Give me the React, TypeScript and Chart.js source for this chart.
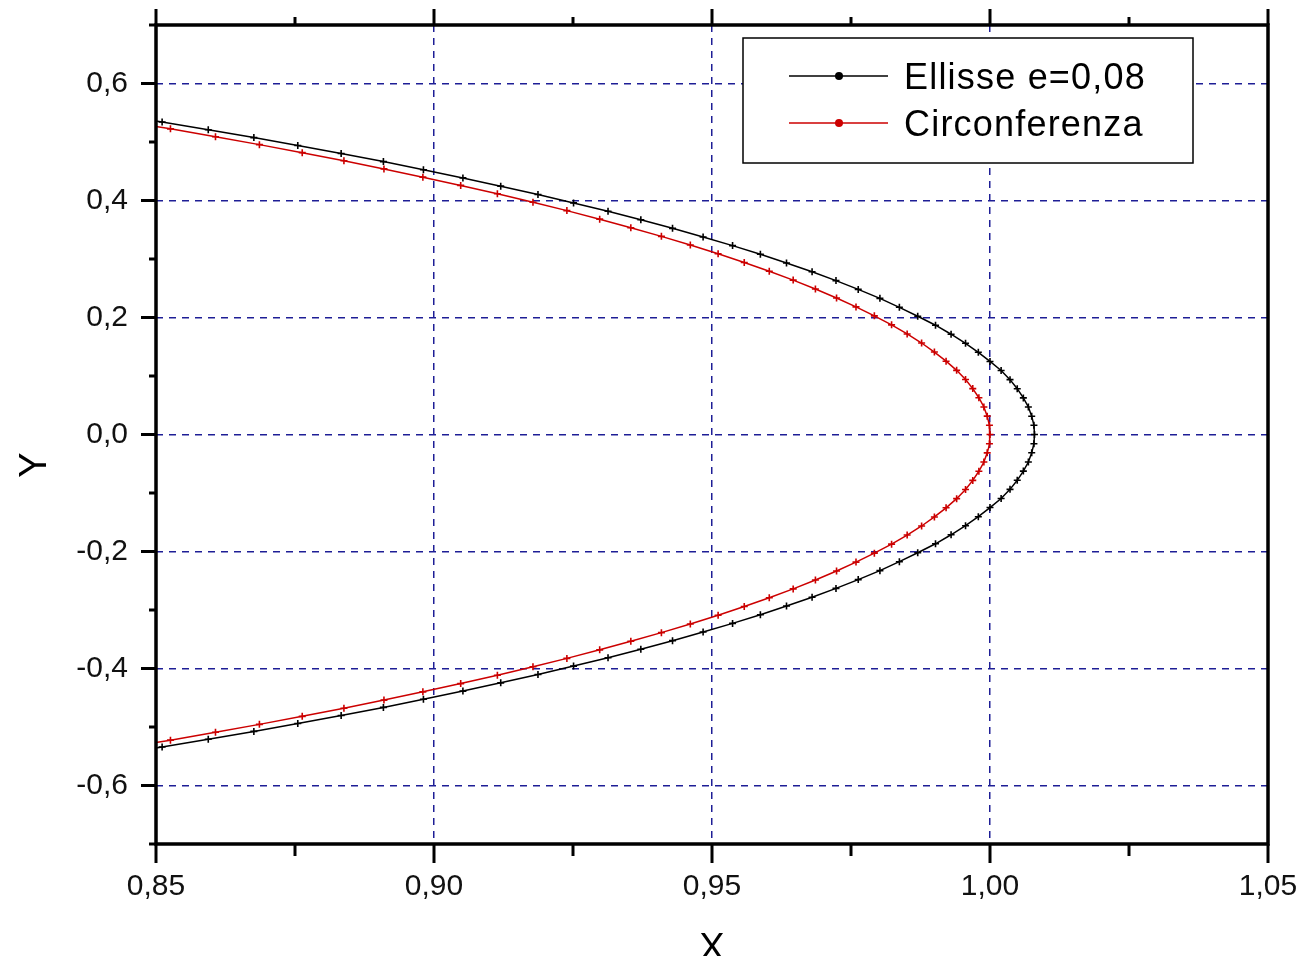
import React, { useEffect, useRef } from "react";
import { Chart, registerables } from "chart.js";

Chart.register(...registerables);

// ---- axis ticks ----
const xTicks = [0.85, 0.9, 0.95, 1.0, 1.05];
const xMinorTicks = [0.875, 0.925, 0.975, 1.025];
const yTicks = [-0.6, -0.4, -0.2, 0, 0.2, 0.4, 0.6];
const yMinorTicks = [-0.7, -0.5, -0.3, -0.1, 0.1, 0.3, 0.5, 0.7];

// ---- series labels ----
const seriesLabels = ["Ellisse e=0,08", "Circonferenza"];
const axisTitles = ["X", "Y"];

// ---- Ellisse e=0,08 (black) ----
const ellipseX = [
  0.8425, 0.8511, 0.8594, 0.8676, 0.8755, 0.8833, 0.8909, 0.8981, 0.9052, 0.912,
  0.9187, 0.9251, 0.9313, 0.9372, 0.9429, 0.9484, 0.9537, 0.9587, 0.9634, 0.968,
  0.9723, 0.9763, 0.9802, 0.9837, 0.987, 0.9902, 0.993, 0.9956, 0.9979, 1.0,
  1.002, 1.0036, 1.0049, 1.006, 1.0069, 1.0075, 1.0079, 1.008,
  1.0079, 1.0075, 1.0069, 1.006, 1.0049, 1.0036, 1.002,
  1.0, 0.9979, 0.9956, 0.993, 0.9902, 0.987, 0.9837, 0.9802, 0.9763, 0.9723,
  0.968, 0.9634, 0.9587, 0.9537, 0.9484, 0.9429, 0.9372, 0.9313, 0.9251, 0.9187,
  0.912, 0.9052, 0.8981, 0.8909, 0.8833, 0.8755, 0.8676, 0.8594, 0.8511, 0.8425,
];
const ellipseY = [
  0.5474, 0.5342, 0.5209, 0.5075, 0.494, 0.4804, 0.4665, 0.4526, 0.4386, 0.4245,
  0.4103, 0.3959, 0.3816, 0.367, 0.3524, 0.3377, 0.3229, 0.3081, 0.2931, 0.2782,
  0.2631, 0.248, 0.2327, 0.2174, 0.2022, 0.1868, 0.1714, 0.1559, 0.1405, 0.1249,
  0.1094, 0.0938, 0.0783, 0.0626, 0.047, 0.0313, 0.0157, 0,
  -0.0157, -0.0313, -0.047, -0.0626, -0.0783, -0.0938, -0.1094,
  -0.1249, -0.1405, -0.1559, -0.1714, -0.1868, -0.2022, -0.2174, -0.2327, -0.248, -0.2631,
  -0.2782, -0.2931, -0.3081, -0.3229, -0.3377, -0.3524, -0.367, -0.3816, -0.3959, -0.4103,
  -0.4245, -0.4386, -0.4526, -0.4665, -0.4804, -0.494, -0.5075, -0.5209, -0.5342, -0.5474,
];

// ---- Circonferenza (red) ----
const circleX = [
  0.8443, 0.8526, 0.8607, 0.8686, 0.8763, 0.8838, 0.891, 0.898, 0.9048, 0.9114,
  0.9178, 0.9239, 0.9298, 0.9354, 0.9409, 0.9461, 0.9511, 0.9558, 0.9603, 0.9646,
  0.9686, 0.9724, 0.9759, 0.9792, 0.9823, 0.9851, 0.9877, 0.99, 0.9921, 0.994,
  0.9956, 0.9969, 0.998, 0.9989, 0.9995, 0.9999, 1.0,
  0.9999, 0.9995, 0.9989, 0.998, 0.9969, 0.9956,
  0.994, 0.9921, 0.99, 0.9877, 0.9851, 0.9823, 0.9792, 0.9759, 0.9724, 0.9686,
  0.9646, 0.9603, 0.9558, 0.9511, 0.9461, 0.9409, 0.9354, 0.9298, 0.9239, 0.9178,
  0.9114, 0.9048, 0.898, 0.891, 0.8838, 0.8763, 0.8686, 0.8607, 0.8526, 0.8443,
];
const circleY = [
  0.5358, 0.5225, 0.509, 0.4955, 0.4818, 0.4679, 0.454, 0.4399, 0.4258, 0.4115,
  0.3971, 0.3827, 0.3681, 0.3535, 0.3387, 0.3239, 0.309, 0.294, 0.279, 0.2639,
  0.2487, 0.2334, 0.2181, 0.2028, 0.1874, 0.1719, 0.1564, 0.1409, 0.1253, 0.1097,
  0.0941, 0.0785, 0.0628, 0.0471, 0.0314, 0.0157, 0,
  -0.0157, -0.0314, -0.0471, -0.0628, -0.0785, -0.0941,
  -0.1097, -0.1253, -0.1409, -0.1564, -0.1719, -0.1874, -0.2028, -0.2181, -0.2334, -0.2487,
  -0.2639, -0.279, -0.294, -0.309, -0.3239, -0.3387, -0.3535, -0.3681, -0.3827, -0.3971,
  -0.4115, -0.4258, -0.4399, -0.454, -0.4679, -0.4818, -0.4955, -0.509, -0.5225, -0.5358,
];

const FONT = '"Liberation Sans", Arial, Helvetica, sans-serif';
const GRID = "#1e1e96";
const BLACK = "#000000";
const RED = "#cc0000";

const zeroPad = (s: any) => {
  s.paddingTop = 0;
  s.paddingBottom = 0;
  s.paddingLeft = 0;
  s.paddingRight = 0;
};

const framePlugin = {
  id: "originFrame",
  afterDraw(chart: any) {
    const { ctx, chartArea: a, scales } = chart;
    const xs = scales.x;
    const ys = scales.y;
    ctx.save();
    ctx.strokeStyle = "#000";
    ctx.lineCap = "butt";
    // frame
    ctx.lineWidth = 3.5;
    ctx.strokeRect(a.left, a.top, a.right - a.left, a.bottom - a.top);
    const line = (x1: number, y1: number, x2: number, y2: number) => {
      ctx.beginPath();
      ctx.moveTo(x1, y1);
      ctx.lineTo(x2, y2);
      ctx.stroke();
    };
    ctx.lineWidth = 3;
    xTicks.forEach((v) => {
      const p = xs.getPixelForValue(v);
      line(p, a.bottom, p, a.bottom + 19);
      line(p, a.top, p, a.top - 16);
    });
    xMinorTicks.forEach((v) => {
      const p = xs.getPixelForValue(v);
      line(p, a.bottom, p, a.bottom + 12);
      line(p, a.top, p, a.top - 8);
    });
    yTicks.forEach((v) => {
      const p = ys.getPixelForValue(v);
      line(a.left, p, a.left - 15, p);
    });
    yMinorTicks.forEach((v) => {
      const p = ys.getPixelForValue(v);
      line(a.left, p, a.left - 7, p);
    });

    // legend
    const lx = 743, ly = 38, lw = 450, lh = 125;
    ctx.fillStyle = "#fff";
    ctx.fillRect(lx, ly, lw, lh);
    ctx.lineWidth = 1.5;
    ctx.strokeStyle = "#000";
    ctx.strokeRect(lx, ly, lw, lh);
    const entries = [
      { y: 76, base: 89, color: BLACK, label: chart.data.datasets[0].label },
      { y: 123, base: 136, color: RED, label: chart.data.datasets[1].label },
    ];
    entries.forEach((e) => {
      ctx.strokeStyle = e.color;
      ctx.lineWidth = 1.5;
      line(789, e.y, 888, e.y);
      ctx.fillStyle = e.color;
      ctx.beginPath();
      ctx.arc(839, e.y, 4, 0, Math.PI * 2);
      ctx.fill();
      ctx.fillStyle = "#000";
      ctx.font = `36px ${FONT}`;
      (ctx as any).letterSpacing = "1.2px";
      ctx.textAlign = "left";
      ctx.textBaseline = "alphabetic";
      ctx.fillText(e.label, 904, e.base);
      (ctx as any).letterSpacing = "0px";
    });

    // axis titles
    ctx.fillStyle = "#000";
    ctx.font = `38px ${FONT}`;
    ctx.textAlign = "center";
    ctx.textBaseline = "alphabetic";
    ctx.fillText(axisTitles[0], (a.left + a.right) / 2, 960);
    ctx.save();
    ctx.translate(46, 465);
    ctx.rotate(-Math.PI / 2);
    ctx.fillText(axisTitles[1], 0, 0);
    ctx.restore();

    ctx.restore();
  },
};

export default function App() {
  const canvasRef = useRef<HTMLCanvasElement | null>(null);

  useEffect(() => {
    const canvas = canvasRef.current;
    if (!canvas) return;
    const ellipseData = ellipseX.map((x, i) => ({ x, y: ellipseY[i] }));
    const circleData = circleX.map((x, i) => ({ x, y: circleY[i] }));
    const pointCommon = {
      showLine: true,
      borderWidth: 1.5,
      pointStyle: "cross",
      pointRadius: 3.5,
      pointBorderWidth: 1.6,
      pointHoverRadius: 3.5,
      tension: 0,
      clip: 0,
    };
    const chart = new Chart(canvas, {
      type: "scatter",
      data: {
        datasets: [
          {
            label: seriesLabels[0],
            data: ellipseData,
            borderColor: BLACK,
            backgroundColor: BLACK,
            pointBorderColor: BLACK,
            ...pointCommon,
          } as any,
          {
            label: seriesLabels[1],
            data: circleData,
            borderColor: RED,
            backgroundColor: RED,
            pointBorderColor: RED,
            ...pointCommon,
          } as any,
        ],
      },
      options: {
        responsive: false,
        animation: false,
        devicePixelRatio: 1,
        layout: { padding: { top: 25, right: 39, left: 0, bottom: 0 } },
        plugins: {
          legend: { display: false },
          tooltip: { enabled: false },
          title: { display: false },
        },
        scales: {
          x: {
            type: "linear",
            min: 0.85,
            max: 1.05,
            afterBuildTicks: (s: any) => {
              s.ticks = xTicks.map((v) => ({ value: v }));
            },
            afterFit: (s: any) => {
              s.height = 112;
              zeroPad(s);
            },
            ticks: {
              autoSkip: false,
              maxRotation: 0,
              padding: 25,
              color: "#111",
              font: { family: FONT, size: 30 },
              callback: (v: any) => Number(v).toFixed(2).replace(".", ","),
            },
            grid: { color: GRID, lineWidth: 1.5, drawTicks: false },
            border: { display: false, dash: [7, 6] },
          },
          y: {
            type: "linear",
            min: -0.7,
            max: 0.7,
            afterBuildTicks: (s: any) => {
              s.ticks = yTicks.map((v) => ({ value: v }));
            },
            afterFit: (s: any) => {
              s.width = 156;
              zeroPad(s);
            },
            ticks: {
              autoSkip: false,
              padding: 28,
              color: "#111",
              font: { family: FONT, size: 30 },
              callback: (v: any) => Number(v).toFixed(1).replace(".", ","),
            },
            grid: { color: GRID, lineWidth: 1.5, drawTicks: false },
            border: { display: false, dash: [7, 6] },
          },
        },
      },
      plugins: [framePlugin],
    } as any);
    return () => chart.destroy();
  }, []);

  return (
    <div style={{ position: "absolute", left: 0, top: 0, width: 1307, height: 956, background: "#fff" }}>
      <canvas ref={canvasRef} width={1307} height={956} style={{ display: "block" }} />
    </div>
  );
}
